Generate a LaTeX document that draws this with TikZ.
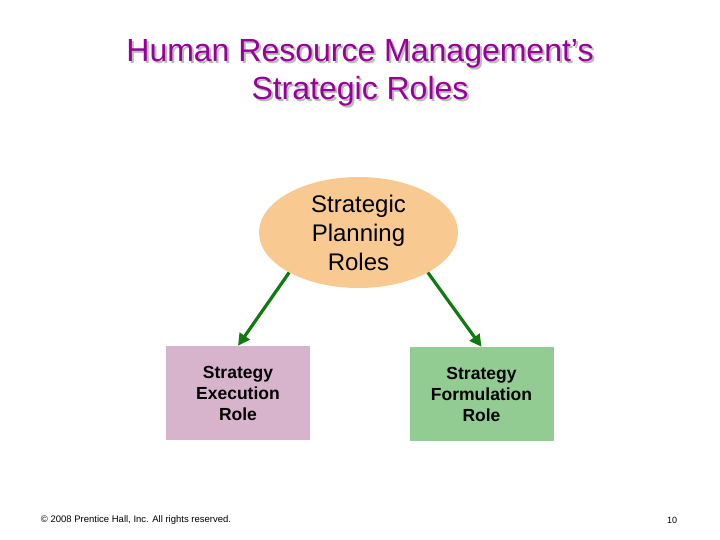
\documentclass[tikz,border=0pt]{standalone}
\usepackage{fontspec}
\setmainfont{Liberation Sans}
\usepackage{tikz}
\usetikzlibrary{positioning}
\usetikzlibrary{shapes.geometric}
\usetikzlibrary{arrows.meta}
\definecolor{titlepurple}{RGB}{153,0,153}
\definecolor{shadowgray}{RGB}{185,185,185}
\definecolor{peach}{RGB}{249,201,146}
\definecolor{lilac}{RGB}{216,180,204}
\definecolor{leafgreen}{RGB}{147,204,147}
\definecolor{arrowgreen}{RGB}{16,122,16}
\tikzset{%
  roleedge/.style = {-{Triangle[length=12pt,width=12pt]},line width=3.2pt,arrowgreen},
  e/.style = {ellipse,fill=peach,inner sep=0pt,minimum width=199pt,
        minimum height=111pt,align=center,
        font=\fontsize{24}{29}\selectfont},
  r/.style = {rectangle,inner sep=0pt,minimum width=144pt,
        minimum height=94pt,align=center,
        font=\fontsize{17.5}{21}\selectfont\bfseries},
  t/.style = {align=center,font=\fontsize{32}{38}\selectfont}
}

\begin{document}
\begin{tikzpicture}[x=1pt,y=-1pt]
                \useasboundingbox (0,0) rectangle (720,540);
                \node[t,shadowgray] (titleshadow) at (362,75) {Human Resource Management’s\\Strategic Roles};
                \node[t,titlepurple] (title) at (360,73) {Human Resource Management’s\\Strategic Roles};
                \node[e] (plan) at (358.5,232.5) {Strategic\\Planning\\Roles};
                \node[r,fill=lilac] (exec) at (238,393) {Strategy\\Execution\\Role};
                \node[r,fill=leafgreen] (form) at (481.5,394) {Strategy\\Formulation\\Role};
                \draw[roleedge] (plan.210) -- (exec.north);
                \draw[roleedge] (plan.330) -- (form.north);
                \node[font=\fontsize{9.5}{11}\selectfont] (copy) at (136,520) {© 2008 Prentice Hall, Inc. All rights reserved.};
                \node[font=\fontsize{9}{11}\selectfont] (page) at (672,520) {10};
            \end{tikzpicture}
\end{document}
